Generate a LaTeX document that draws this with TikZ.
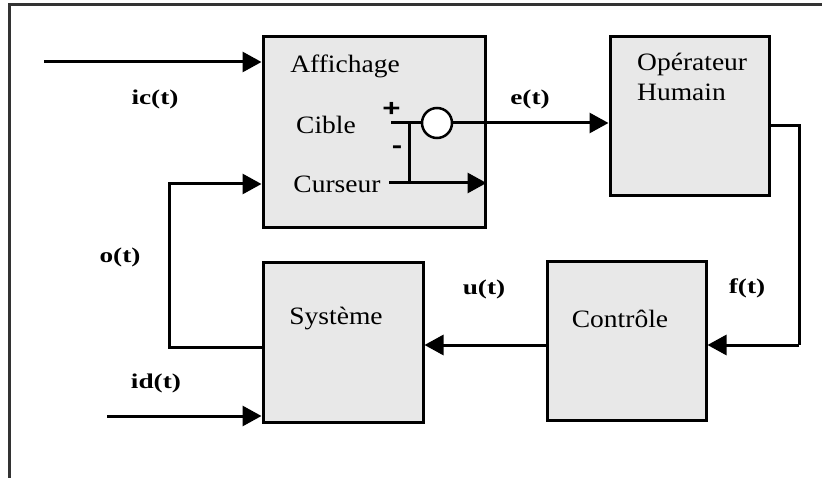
\documentclass[tikz,border=0pt]{standalone}
\usepackage{fontspec}
\setmainfont{Liberation Serif}[FakeStretch=1.1]
\newfontfamily\labfont{Liberation Serif}[FakeStretch=1.3]
\newfontfamily\signfont{Liberation Sans}[FakeStretch=1.3]
\usetikzlibrary{arrows.meta}
\begin{document}
\begin{tikzpicture}[x=1pt,y=-1pt,
  blk/.style={draw, line width=3pt, fill=black!9, inner sep=0pt},
  wire/.style={line width=3pt},
  arr/.style={wire, -{Triangle[length=19pt,width=20pt]}},
  txt/.style={font=\fontsize{25}{30}\selectfont, inner sep=0pt},
  sig/.style={font=\fontsize{21}{25}\labfont\bfseries, inner sep=0pt},
  sgn/.style={font=\fontsize{24}{28}\signfont\bfseries, inner sep=0pt},
]
\useasboundingbox (0,0) rectangle (822,478);
% outer frame
\draw[line width=3pt, black!80] (9.5,478) -- (9.5,4.5) -- (822,4.5);

% blocks
\node[blk, minimum width=222pt, minimum height=191pt] (aff) at (374,132.5) {};
\node[blk, minimum width=159pt, minimum height=159pt] (op)  at (689.5,116.5) {};
\node[blk, minimum width=160pt, minimum height=159pt] (sys) at (343,342.5) {};
\node[blk, minimum width=159pt, minimum height=158pt] (ctl) at (626.5,341) {};

% block texts
\node[txt] (taff) at (345,66) {Affichage};
\node[txt] (tcib) at (326,125) {Cible};
\node[txt] (tcur) at (337,184) {Curseur};
\node[txt, align=left, anchor=north west] (top) at (637,53) {Opérateur\\Humain};
\node[txt] (tsys) at (336,319) {Système};
\node[txt] (tctl) at (620,319) {Contrôle};

% comparator inside the display
\node[circle, draw, line width=2.5pt, fill=white, minimum size=30pt, inner sep=0pt] (sum) at (437,123) {};
\coordinate (cibL) at (391,123);
\coordinate (tee) at (409,123);
\coordinate (curL) at (389,183);
\draw[wire] (cibL) -- (sum.west);
\draw[wire] (tee) -- (tee |- curL);
\draw[arr] (curL) -- (curL -| aff.east);
\node[sgn] (plus) at (391.5,109) {+};
\node[sgn] (minus) at (397,150) {-};

% signal paths
\coordinate (icin) at (44,62);
\draw[arr] (icin) -- (icin -| aff.west);
\draw[arr] (sum.east) -- (sum.east -| op.west);
\coordinate (opout) at (769,125.5);
\coordinate (rr) at (799,345);
\draw[wire] (opout -| op.east) -- (opout -| rr) -- (rr);
\draw[arr] (rr) -- (rr -| ctl.east);
\draw[arr] (ctl.west |- rr) -- (sys.east |- rr);
\coordinate (ll) at (169,347);
\coordinate (curin) at (169,184);
\draw[arr] (sys.west |- ll) -- (ll) -- (curin) -- (curin -| aff.west);
\coordinate (idin) at (107,416);
\draw[arr] (idin) -- (idin -| sys.west);

% signal labels
\node[sig] (lic) at (155,99) {ic(t)};
\node[sig] (le) at (530,99) {e(t)};
\node[sig] (lo) at (120,257) {o(t)};
\node[sig] (lu) at (484,289) {u(t)};
\node[sig] (lf) at (747,288) {f(t)};
\node[sig] (lid) at (156,383) {id(t)};
\end{tikzpicture}
\end{document}
